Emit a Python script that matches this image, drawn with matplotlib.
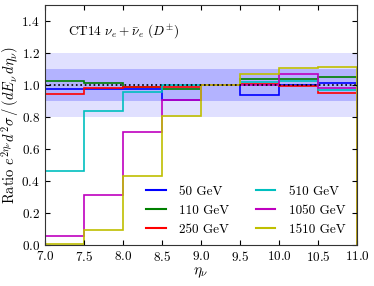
import matplotlib
matplotlib.use('Agg')
import matplotlib.pyplot as plt
from matplotlib.lines import Line2D

plt.rcParams['font.family'] = 'serif'
plt.rcParams['font.serif'] = ['cmr10']
plt.rcParams['mathtext.fontset'] = 'cm'
plt.rcParams['axes.formatter.use_mathtext'] = True

# eta_nu bin edges
eta_edges = [7.0, 7.5, 8.0, 8.5, 9.0, 9.5, 10.0, 10.5, 11.0]

# ratio per bin for each neutrino energy
labels = ['50 GeV', '110 GeV', '250 GeV', '510 GeV', '1050 GeV', '1510 GeV']
colors = ['b', 'g', 'r', 'c', 'm', 'y']
r_50 = [0.975, 0.975, 0.975, 0.905, 1.0, 0.94, 1.0, 1.01]
r_110 = [1.025, 1.012, 0.985, 0.975, 1.0, 1.035, 1.035, 1.05]
r_250 = [0.945, 0.978, 0.99, 0.988, 1.0, 1.005, 0.995, 0.95]
r_510 = [0.465, 0.835, 0.958, 1.0, 1.0, 1.02, 1.025, 0.97]
r_1050 = [0.056, 0.31, 0.705, 0.906, 1.0, 1.0, 1.068, 0.98]
r_1510 = [0.008, 0.095, 0.43, 0.808, 1.0, 1.068, 1.106, 1.11]
reference = [1.0] * 8

fig = plt.figure(figsize=(3.74, 2.86), dpi=100)
ax = fig.add_axes([0.12, 0.143, 0.835, 0.84])

# uncertainty bands
ax.axhspan(0.8, 1.2, color='b', alpha=0.12, lw=0)
ax.axhspan(0.9, 1.1, color='b', alpha=0.2, lw=0)

series = [r_50, r_110, r_250, r_510, r_1050, r_1510]
for vals, c in zip(series, colors):
    ax.stairs(vals, eta_edges, color=c, lw=1.2, baseline=0)
ax.stairs(reference, eta_edges, color='k', lw=1.2, ls=':', baseline=None)

ax.set_xlim(7.0, 11.0)
ax.set_ylim(0.0, 1.5)
ax.set_xticks([7.0, 7.5, 8.0, 8.5, 9.0, 9.5, 10.0, 10.5, 11.0])
ax.set_yticks([0.0, 0.2, 0.4, 0.6, 0.8, 1.0, 1.2, 1.4])
ax.tick_params(direction='in', top=True, right=True, labelsize=9.5, length=3.5)
for s in ax.spines.values():
    s.set_color('#333333')
ax.set_xlabel(r'$\eta_\nu$', fontsize=11, labelpad=1)
ax.set_ylabel(r'Ratio $e^{2\eta_\nu}d^2\sigma\,/\,(dE_\nu\,d\eta_\nu)$', fontsize=10.5)
ax.yaxis.set_label_coords(-0.078, 0.5)

ax.text(0.075, 0.89, r'CT14 $\nu_e+\bar{\nu}_e$ $(D^{\pm})$', transform=ax.transAxes,
        fontsize=9.5, va='center')

handles = [Line2D([], [], color=c, lw=1.5) for c in colors]
ax.legend(handles, labels, ncol=2, loc='lower right', frameon=False, fontsize=9.5,
          handlelength=1.5, handletextpad=1.0, columnspacing=2.0, labelspacing=0.5,
          bbox_to_anchor=(1.0, -0.01))

fig.savefig('out.png', dpi=100)
